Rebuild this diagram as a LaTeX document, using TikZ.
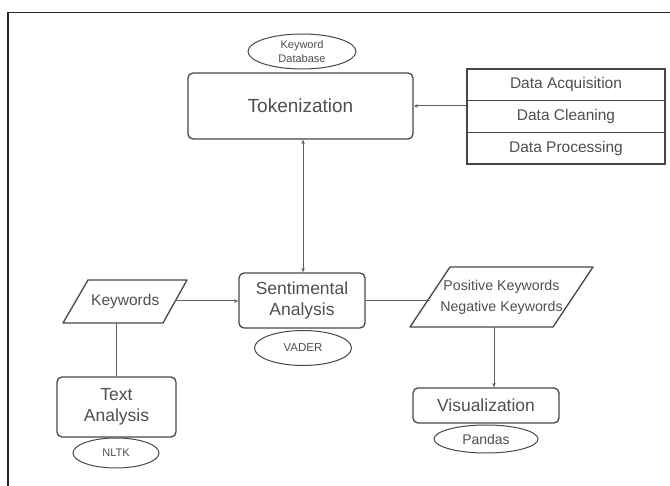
\documentclass[tikz,border=0pt]{standalone}
\usepackage{fontspec}
\setmainfont{Liberation Sans}
\usetikzlibrary{shapes.geometric,arrows.meta,calc}
\definecolor{ln}{HTML}{474747}
\definecolor{cn}{HTML}{5E5E5E}
\definecolor{tx}{HTML}{4F4F4F}
\begin{document}
\begin{tikzpicture}[x=1pt,y=-1pt,
  box/.style={draw=ln, line width=1.3pt, rounded corners=5pt, inner sep=0pt, align=center, text=tx, font=\fontsize{17.5}{21}\selectfont},
  oval/.style={ellipse, draw=ln, line width=1pt, fill=white, inner sep=0pt, align=center, text=tx},
  cell/.style={draw=ln, line width=1.2pt, minimum width=198pt, minimum height=31.67pt, inner sep=0pt, text=tx, font=\fontsize{15.5}{18}\selectfont},
  ptext/.style={inner sep=0pt, align=center, text=tx},
  pshape/.style={draw=ln, line width=1.3pt, line join=round},
  conn/.style={draw=cn, line width=1pt},
  tip/.style={-{Stealth[length=4.5pt,width=3.5pt]}},
  tips/.style={{Stealth[length=4.5pt,width=3.5pt]}-{Stealth[length=4.5pt,width=3.5pt]}}
]
\useasboundingbox (0,0) rectangle (670,486);
\fill[white] (0,0) rectangle (670,486);
\begin{scope}
\clip (0,0) rectangle (670,486);
\draw[line width=1.8pt, black!85] (8,12.5) rectangle (700,520);
\end{scope}

% main boxes
\node[box, minimum width=225pt, minimum height=66pt, font=\fontsize{19}{22}\selectfont] (tok) at (300.5,106) {Tokenization};
\node[box, minimum width=126pt, minimum height=55pt] (sent) at (302,300.5) {Sentimental\\Analysis};
\node[box, minimum width=119pt, minimum height=60pt] (ta) at (116.5,407) {Text\\Analysis};
\node[box, minimum width=146pt, minimum height=35pt] (vis) at (486,405.5) {Visualization};

% data stack
\node[cell] (da) at (566,84.8) {Data Acquisition};
\node[cell] (dc) at (566,116.5) {Data Cleaning};
\node[cell] (dp) at (566,148.2) {Data Processing};

% parallelograms
\draw[pshape] (88,280) -- (187,280) -- (163,323) -- (63,323) -- cycle;
\node[ptext, minimum width=99pt, minimum height=43pt, font=\fontsize{15.5}{18}\selectfont] (kw) at (125.25,301) {Keywords};
\draw[pshape] (450,267) -- (593,267) -- (553,327) -- (410,327) -- cycle;
\node[ptext, minimum width=143pt, minimum height=60pt, font=\fontsize{14.2}{21}\selectfont] (pn) at (501.5,297) {Positive Keywords\\Negative Keywords};

% ellipses
\node[oval, minimum width=108pt, minimum height=35pt, font=\fontsize{11}{14}\selectfont] (kdb) at (302,51.5) {Keyword\\Database};
\node[oval, minimum width=97pt, minimum height=35pt, font=\fontsize{11.5}{14}\selectfont] (vader) at (303,348) {VADER};
\node[oval, minimum width=86pt, minimum height=30pt, font=\fontsize{11}{14}\selectfont] (nltk) at (116,453) {NLTK};
\node[oval, minimum width=104pt, minimum height=28pt, font=\fontsize{14}{16}\selectfont] (pandas) at (486,439) {Pandas};

% connectors
\draw[conn, tip] (tok.east -| dc.west) -- (tok.east);
\draw[conn, tips] (sent.north -| 303,0) -- (tok.south -| 303,0);
\draw[conn, tip] (kw.east) -- (kw.east -| sent.west);
\draw[conn] (kw.south -| ta.north) -- (ta.north);
\draw[conn] (sent.east) -- (sent.east -| pn.west);
\draw[conn, tip] (pn.south -| 494,0) -- (vis.north -| 494,0);
\end{tikzpicture}
\end{document}
